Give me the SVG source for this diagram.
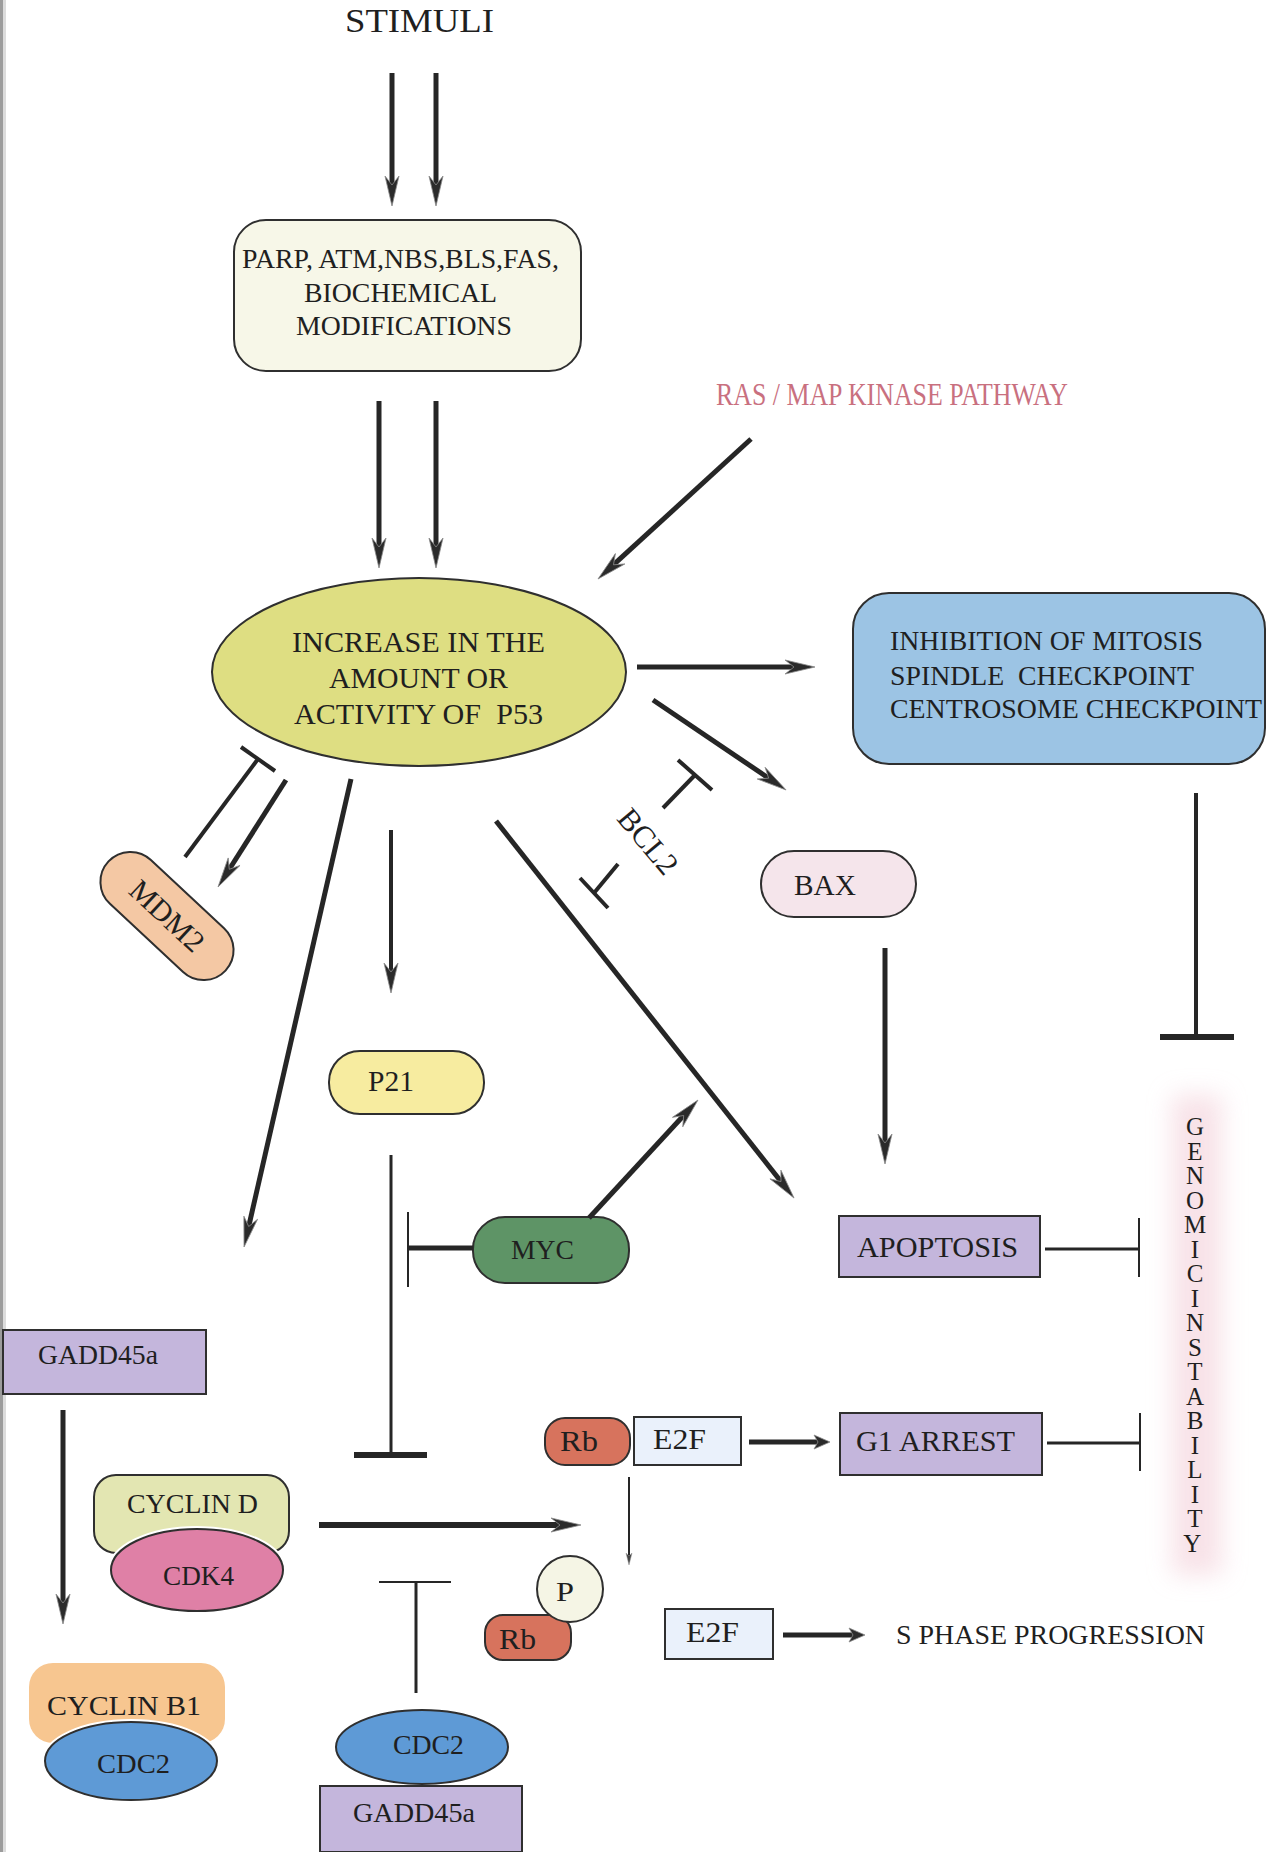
<svg xmlns="http://www.w3.org/2000/svg" width="1268" height="1852" viewBox="0 0 1268 1852">
<defs>
<style>
.t{font-family:"Liberation Serif","Times New Roman",serif;fill:#1f1f1f;white-space:pre;}
.nd{stroke:#2f2f2f;stroke-width:2;}
.ln{stroke:#262626;fill:none;stroke-linecap:butt;}
.w5{stroke-width:5;}
.w4{stroke-width:4;}
.w3{stroke-width:3;}
.w2{stroke-width:2;}
.lav{fill:#c4b6dc;}
</style>
<marker id="ah" markerUnits="userSpaceOnUse" viewBox="-16 -9 34 18" refX="0" refY="0" markerWidth="34" markerHeight="18" orient="auto">
<path d="M16,0 L-14,-7 L-5,0 L-14,7 Z" fill="#2b2b2b" stroke="#8a8a8a" stroke-width="0.8"/>
</marker>
<marker id="ahs" markerUnits="userSpaceOnUse" viewBox="-8 -9 20 18" refX="0" refY="0" markerWidth="20" markerHeight="18" orient="auto">
<path d="M10,0 L-6,-7 L-2,0 L-6,7 Z" fill="#2b2b2b" stroke="#8a8a8a" stroke-width="0.8"/>
</marker>
<marker id="aht" markerUnits="userSpaceOnUse" viewBox="-8 -5 14 10" refX="0" refY="0" markerWidth="14" markerHeight="10" orient="auto">
<path d="M5,0 L-7,-3 L-4,0 L-7,3 Z" fill="#444" stroke="#999" stroke-width="0.5"/>
</marker>
<filter id="blur" x="-60%" y="-20%" width="220%" height="140%">
<feGaussianBlur stdDeviation="12"/>
</filter>
</defs>
<rect x="0" y="0" width="1268" height="1852" fill="#ffffff"/>
<rect x="0" y="0" width="3" height="1852" fill="#9c9c9c"/>
<rect x="3" y="0" width="3" height="1852" fill="#dcdcdc"/>

<g id="stimuli"><text class="t" x="345" y="32" font-size="34" textLength="149" lengthAdjust="spacingAndGlyphs">STIMULI</text></g>

<g id="parp">
<rect class="nd" x="234" y="220" width="347" height="151" rx="32" fill="#f7f7e8"/>
<text class="t" font-size="27" x="242" y="268" textLength="317" lengthAdjust="spacingAndGlyphs">PARP, ATM,NBS,BLS,FAS,</text>
<text class="t" font-size="27" x="304" y="302" textLength="193" lengthAdjust="spacingAndGlyphs">BIOCHEMICAL</text>
<text class="t" font-size="27" x="296" y="335" textLength="216" lengthAdjust="spacingAndGlyphs">MODIFICATIONS</text>
</g>

<g id="ras"><text class="t" x="716" y="405" font-size="32" style="fill:#c9707f" textLength="352" lengthAdjust="spacingAndGlyphs">RAS / MAP KINASE PATHWAY</text></g>

<g id="p53">
<ellipse class="nd" cx="419" cy="672" rx="207" ry="94" fill="#dede82"/>
<text class="t" font-size="29" x="292" y="652" textLength="253" lengthAdjust="spacingAndGlyphs">INCREASE IN THE</text>
<text class="t" font-size="29" x="329" y="688" textLength="179" lengthAdjust="spacingAndGlyphs">AMOUNT OR</text>
<text class="t" font-size="29" x="294" y="724" textLength="249" lengthAdjust="spacingAndGlyphs">ACTIVITY OF  P53</text>
</g>

<g id="inhibition">
<rect class="nd" x="853" y="593" width="412" height="171" rx="36" fill="#9cc4e4"/>
<text class="t" font-size="27" x="890" y="650" textLength="313" lengthAdjust="spacingAndGlyphs">INHIBITION OF MITOSIS</text>
<text class="t" font-size="27" x="890" y="685" textLength="304" lengthAdjust="spacingAndGlyphs">SPINDLE  CHECKPOINT</text>
<text class="t" font-size="27" x="890" y="718" textLength="372" lengthAdjust="spacingAndGlyphs">CENTROSOME CHECKPOINT</text>
</g>

<g id="mdm2" transform="translate(167,916) rotate(43)">
<rect class="nd" x="-80" y="-30" width="160" height="60" rx="30" fill="#f4c8a4"/>
<text class="t" font-size="30" x="0" y="10" text-anchor="middle">MDM2</text>
</g>

<g id="bcl2"><text class="t" font-size="31" x="0" y="0" text-anchor="middle" transform="translate(640,848) rotate(50)">BCL2</text></g>

<g id="bax">
<rect class="nd" x="761" y="851" width="155" height="66" rx="33" fill="#f5e5eb"/>
<text class="t" font-size="29" x="794" y="895" textLength="62" lengthAdjust="spacingAndGlyphs">BAX</text>
</g>

<g id="p21">
<rect class="nd" x="329" y="1051" width="155" height="63" rx="31" fill="#f7eca0"/>
<text class="t" font-size="30" x="368" y="1091" textLength="46" lengthAdjust="spacingAndGlyphs">P21</text>
</g>

<g id="myc">
<rect class="nd" x="473" y="1217" width="156" height="66" rx="32" fill="#5e9466"/>
<text class="t" font-size="28" x="511" y="1259" textLength="63" lengthAdjust="spacingAndGlyphs">MYC</text>
</g>

<g id="apoptosis">
<rect class="nd lav" x="839" y="1216" width="201" height="61"/>
<text class="t" font-size="29" x="857" y="1257" textLength="161" lengthAdjust="spacingAndGlyphs">APOPTOSIS</text>
</g>

<g id="g1arrest">
<rect class="nd lav" x="840" y="1413" width="202" height="62"/>
<text class="t" font-size="29" x="856" y="1451" textLength="159" lengthAdjust="spacingAndGlyphs">G1 ARREST</text>
</g>

<g id="genomic">
<rect x="1172" y="1095" width="50" height="480" fill="#f2cbd5" opacity="0.55" filter="url(#blur)"/>
<text class="t" font-size="25" text-anchor="middle">
<tspan x="1195" y="1135">G</tspan><tspan x="1195" y="1159.5">E</tspan><tspan x="1195" y="1184">N</tspan><tspan x="1195" y="1208.5">O</tspan><tspan x="1195" y="1233">M</tspan><tspan x="1195" y="1257.5">I</tspan><tspan x="1195" y="1282">C</tspan><tspan x="1195" y="1306.5">I</tspan><tspan x="1195" y="1331">N</tspan><tspan x="1195" y="1355.5">S</tspan><tspan x="1195" y="1380">T</tspan><tspan x="1195" y="1404.5">A</tspan><tspan x="1195" y="1429">B</tspan><tspan x="1195" y="1453.5">I</tspan><tspan x="1195" y="1478">L</tspan><tspan x="1195" y="1502.5">I</tspan><tspan x="1195" y="1527">T</tspan><tspan x="1195" y="1551.5">Y</tspan>
</text>
</g>

<g id="gadd45a-top">
<rect class="nd lav" x="3" y="1330" width="203" height="64"/>
<text class="t" font-size="27" x="38" y="1364" textLength="120" lengthAdjust="spacingAndGlyphs">GADD45a</text>
</g>

<g id="rb-e2f">
<rect class="nd" x="545" y="1418" width="85" height="47" rx="20" fill="#d7735d"/>
<text class="t" font-size="30" x="560" y="1451" textLength="38" lengthAdjust="spacingAndGlyphs">Rb</text>
<rect class="nd" x="634" y="1417" width="107" height="48" fill="#eaf1fb"/>
<text class="t" font-size="29" x="653" y="1449" textLength="53" lengthAdjust="spacingAndGlyphs">E2F</text>
</g>

<g id="rb-p">
<rect class="nd" x="485" y="1615" width="86" height="45" rx="18" fill="#d7735d"/>
<text class="t" font-size="30" x="499" y="1649" textLength="37" lengthAdjust="spacingAndGlyphs">Rb</text>
<ellipse class="nd" cx="570" cy="1589" rx="33" ry="33" fill="#f5f5e5"/>
<text class="t" font-size="28" x="556" y="1601" textLength="18" lengthAdjust="spacingAndGlyphs">P</text>
</g>

<g id="e2f-free">
<rect class="nd" x="665" y="1609" width="108" height="50" fill="#eaf1fb"/>
<text class="t" font-size="29" x="686" y="1642" textLength="53" lengthAdjust="spacingAndGlyphs">E2F</text>
</g>

<g id="sphase"><text class="t" font-size="27" x="896" y="1644" textLength="309" lengthAdjust="spacingAndGlyphs">S PHASE PROGRESSION</text></g>

<g id="cyclind-cdk4">
<rect class="nd" x="94" y="1475" width="195" height="78" rx="22" fill="#e3e6b2"/>
<text class="t" font-size="27" x="127" y="1513" textLength="131" lengthAdjust="spacingAndGlyphs">CYCLIN D</text>
<ellipse cx="197" cy="1570" rx="86" ry="41" fill="none" stroke="#ffffff" stroke-width="6"/>
<ellipse class="nd" cx="197" cy="1570" rx="86" ry="41" fill="#df80a6"/>
<text class="t" font-size="27" x="163" y="1585" textLength="71" lengthAdjust="spacingAndGlyphs">CDK4</text>
</g>

<g id="cyclinb1-cdc2">
<rect x="29" y="1663" width="196" height="80" rx="24" fill="#f7c690"/>
<text class="t" font-size="27" x="47" y="1715" textLength="154" lengthAdjust="spacingAndGlyphs">CYCLIN B1</text>
<ellipse cx="131" cy="1761" rx="86" ry="39" fill="none" stroke="#ffffff" stroke-width="6"/>
<ellipse class="nd" cx="131" cy="1761" rx="86" ry="39" fill="#5e9ad6"/>
<text class="t" font-size="27" x="97" y="1773" textLength="73" lengthAdjust="spacingAndGlyphs">CDC2</text>
</g>

<g id="cdc2-gadd45a">
<rect class="nd lav" x="320" y="1786" width="202" height="66"/>
<text class="t" font-size="27" x="353" y="1822" textLength="122" lengthAdjust="spacingAndGlyphs">GADD45a</text>
<ellipse class="nd" cx="422" cy="1747" rx="86" ry="37" fill="#5e9ad6"/>
<text class="t" font-size="27" x="393" y="1754" textLength="71" lengthAdjust="spacingAndGlyphs">CDC2</text>
</g>

<g id="connectors">
<line class="ln w5" x1="392" y1="73" x2="392" y2="190" marker-end="url(#ah)"/>
<line class="ln w5" x1="436" y1="73" x2="436" y2="190" marker-end="url(#ah)"/>
<line class="ln w5" x1="379" y1="401" x2="379" y2="552" marker-end="url(#ah)"/>
<line class="ln w5" x1="436" y1="401" x2="436" y2="552" marker-end="url(#ah)"/>
<line class="ln w5" x1="751" y1="439" x2="609.8" y2="568.2" marker-end="url(#ah)"/>
<line class="ln w5" x1="637" y1="667" x2="799" y2="667" marker-end="url(#ah)"/>
<line class="ln w5" x1="653" y1="700" x2="772.8" y2="781" marker-end="url(#ah)"/>
<line class="ln w5" x1="286" y1="780" x2="226.6" y2="873.5" marker-end="url(#ah)"/>
<line class="ln w4" x1="185" y1="857" x2="258" y2="759"/>
<line class="ln w4" x1="241" y1="747" x2="275" y2="771"/>
<line class="ln w5" x1="351" y1="779" x2="247.6" y2="1231.4" marker-end="url(#ah)"/>
<line class="ln w4" x1="391" y1="830" x2="391" y2="977" marker-end="url(#ah)"/>
<line class="ln w5" x1="496" y1="821" x2="784.1" y2="1185.5" marker-end="url(#ah)"/>
<line class="ln w4" x1="663" y1="808" x2="695" y2="775"/>
<line class="ln w4" x1="678" y1="760" x2="712" y2="790"/>
<line class="ln w4" x1="618" y1="864" x2="594" y2="893"/>
<line class="ln w4" x1="580" y1="878" x2="608" y2="908"/>
<line class="ln w3" x1="391" y1="1155" x2="391" y2="1455"/>
<line class="ln" stroke-width="6" x1="354" y1="1455" x2="427" y2="1455"/>
<line class="ln w5" x1="473" y1="1248" x2="408" y2="1248"/>
<line class="ln w2" x1="408" y1="1212" x2="408" y2="1287"/>
<line class="ln w5" x1="589" y1="1218" x2="687.1" y2="1111.8" marker-end="url(#ah)"/>
<line class="ln w5" x1="885" y1="948" x2="885" y2="1148" marker-end="url(#ah)"/>
<line class="ln w4" x1="1196" y1="793" x2="1196" y2="1037"/>
<line class="ln" stroke-width="6" x1="1160" y1="1037" x2="1234" y2="1037"/>
<line class="ln w3" x1="1045" y1="1249" x2="1139" y2="1249"/>
<line class="ln w2" x1="1139" y1="1218" x2="1139" y2="1277"/>
<line class="ln w3" x1="1047" y1="1443" x2="1140" y2="1443"/>
<line class="ln w2" x1="1140" y1="1413" x2="1140" y2="1471"/>
<line class="ln w5" x1="749" y1="1442" x2="820" y2="1442" marker-end="url(#ahs)"/>
<line class="ln w5" x1="63" y1="1410" x2="63" y2="1608" marker-end="url(#ah)"/>
<line class="ln" stroke-width="6" x1="319" y1="1525" x2="565" y2="1525" marker-end="url(#ah)"/>
<line class="ln w2" x1="629" y1="1477" x2="629" y2="1560" marker-end="url(#aht)"/>
<line class="ln w3" x1="416" y1="1693" x2="416" y2="1582"/>
<line class="ln w2" x1="379" y1="1582" x2="451" y2="1582"/>
<line class="ln w5" x1="783" y1="1635" x2="855" y2="1635" marker-end="url(#ahs)"/>
</g>
</svg>
